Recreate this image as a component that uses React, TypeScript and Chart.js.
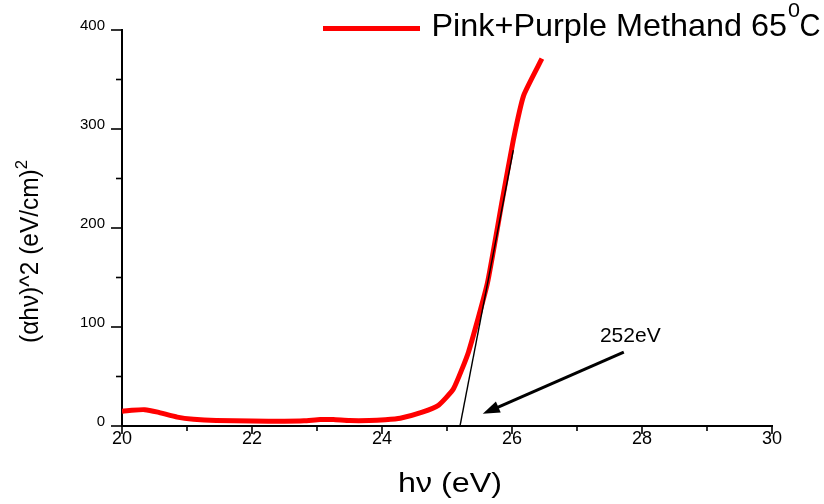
import React, { useEffect, useRef } from 'react';
import { Chart, registerables } from 'chart.js';

Chart.register(...registerables);

// ---- data ----
const photonEnergy = [20.0, 20.15, 20.35, 20.55, 20.85, 21.1, 21.45, 22.0, 22.5, 22.8, 23.05, 23.25, 23.5, 23.8, 24.05, 24.28, 24.62, 24.87, 25.1, 25.33, 25.62, 25.85, 26.02, 26.18, 26.46];
const absorption = [15, 16, 16.5, 14, 9, 6.8, 5.5, 5, 4.8, 5.2, 6.5, 6.5, 5.5, 5.5, 6.3, 7.8, 14, 21, 37.6, 74.6, 143.8, 228, 288.7, 334, 371];

const tangentX = [25.2, 26.02];
const tangentY = [0, 278.6];

const arrowX = [27.72, 25.55]; // tail, tip
const arrowY = [74.6, 12.3];

const annotationX = 27.82;
const annotationY = 90.5;
const annotationText = '252eV';

const xMajorTicks = [20, 22, 24, 26, 28, 30];
const xMinorTicks = [21, 23, 25, 27, 29];
const yMajorTicks = [0, 100, 200, 300, 400];
const yMinorTicks = [50, 150, 250, 350];

const legendLabel = 'Pink+Purple Methand 65';
const legendSup = '0';
const legendTail = 'C';
const xTitle = 'hν (eV)';
const yTitleMain = '(αhν)^2 (eV/cm)';
const yTitleSup = '2';

const FONT = "'Liberation Sans', Arial, sans-serif";

function fitText(ctx: CanvasRenderingContext2D, text: string, x: number, baseline: number, width: number, font: string) {
  ctx.save();
  ctx.font = font;
  const w = ctx.measureText(text).width;
  const s = width / w;
  ctx.translate(x, baseline);
  ctx.scale(s, 1);
  ctx.textAlign = 'left';
  ctx.textBaseline = 'alphabetic';
  ctx.fillText(text, 0, 0);
  ctx.restore();
}

const overlayPlugin = {
  id: 'overlay',
  afterDraw(chart: any) {
    const ctx: CanvasRenderingContext2D = chart.ctx;
    const xs = chart.scales.x;
    const ys = chart.scales.y;
    const area = chart.chartArea;
    ctx.save();
    ctx.strokeStyle = '#000';
    ctx.fillStyle = '#000';
    ctx.lineWidth = 1.6;
    ctx.lineCap = 'butt';

    // x tick marks (outward)
    const xb = area.bottom;
    xMajorTicks.forEach((v) => {
      const p = xs.getPixelForValue(v);
      ctx.beginPath(); ctx.moveTo(p, xb); ctx.lineTo(p, xb + 8); ctx.stroke();
    });
    xMinorTicks.forEach((v) => {
      const p = xs.getPixelForValue(v);
      ctx.beginPath(); ctx.moveTo(p, xb); ctx.lineTo(p, xb + 5); ctx.stroke();
    });
    // y tick marks (outward)
    const yl = area.left;
    yMajorTicks.forEach((v) => {
      const p = ys.getPixelForValue(v);
      ctx.beginPath(); ctx.moveTo(yl, p); ctx.lineTo(yl - 11, p); ctx.stroke();
    });
    yMinorTicks.forEach((v) => {
      const p = ys.getPixelForValue(v);
      ctx.beginPath(); ctx.moveTo(yl, p); ctx.lineTo(yl - 6, p); ctx.stroke();
    });

    // arrow
    const tx = xs.getPixelForValue(arrowX[0]);
    const ty = ys.getPixelForValue(arrowY[0]);
    const hx = xs.getPixelForValue(arrowX[1]);
    const hy = ys.getPixelForValue(arrowY[1]);
    const ang = Math.atan2(hy - ty, hx - tx);
    const headLen = 17;
    const headHalf = 6;
    const bx = hx - headLen * Math.cos(ang);
    const by = hy - headLen * Math.sin(ang);
    ctx.lineWidth = 3;
    ctx.beginPath(); ctx.moveTo(tx, ty); ctx.lineTo(bx + 2 * Math.cos(ang), by + 2 * Math.sin(ang)); ctx.stroke();
    ctx.beginPath();
    ctx.moveTo(hx, hy);
    ctx.lineTo(bx + headHalf * Math.sin(ang), by - headHalf * Math.cos(ang));
    ctx.lineTo(bx - headHalf * Math.sin(ang), by + headHalf * Math.cos(ang));
    ctx.closePath();
    ctx.fill();

    // annotation text
    ctx.font = `21px ${FONT}`;
    ctx.textAlign = 'center';
    ctx.textBaseline = 'middle';
    ctx.fillText(annotationText, xs.getPixelForValue(annotationX), ys.getPixelForValue(annotationY));

    // legend
    ctx.strokeStyle = '#ff0000';
    ctx.lineWidth = 5;
    ctx.beginPath(); ctx.moveTo(323, 28.5); ctx.lineTo(420, 28.5); ctx.stroke();
    ctx.fillStyle = '#000';
    fitText(ctx, legendLabel, 431.5, 36, 355.5, `32px ${FONT}`);
    fitText(ctx, legendSup, 788, 16.5, 12, `20px ${FONT}`);
    fitText(ctx, legendTail, 799.5, 36, 21, `32px ${FONT}`);

    // x title
    fitText(ctx, xTitle, 398, 492, 104, `27px ${FONT}`);

    // y title (rotated)
    ctx.save();
    ctx.translate(37.5, 343);
    ctx.rotate(-Math.PI / 2);
    ctx.font = `25px ${FONT}`;
    const wMain = ctx.measureText(yTitleMain).width;
    ctx.font = `17px ${FONT}`;
    const wSup = ctx.measureText(yTitleSup).width;
    const s = 183 / (wMain + wSup);
    ctx.scale(s, 1);
    ctx.textAlign = 'left';
    ctx.textBaseline = 'alphabetic';
    ctx.font = `25px ${FONT}`;
    ctx.fillText(yTitleMain, 0, 0);
    ctx.font = `17px ${FONT}`;
    ctx.fillText(yTitleSup, wMain, -10.5);
    ctx.restore();

    ctx.restore();
  },
};

export default function App() {
  const canvasRef = useRef<HTMLCanvasElement | null>(null);

  useEffect(() => {
    document.body.style.margin = '0';
    const canvas = canvasRef.current;
    if (!canvas) return;
    const mainData = photonEnergy.map((x, i) => ({ x, y: absorption[i] }));
    const tangentData = tangentX.map((x, i) => ({ x, y: tangentY[i] }));

    const chart = new Chart(canvas, {
      type: 'scatter',
      data: {
        datasets: [
          {
            label: legendLabel,
            data: mainData,
            order: 2,
            showLine: true,
            borderColor: '#ff0000',
            backgroundColor: '#ff0000',
            borderWidth: 5,
            pointRadius: 0,
            tension: 0.15,
            borderJoinStyle: 'round',
            borderCapStyle: 'butt',
          },
          {
            label: 'tangent',
            data: tangentData,
            order: 1,
            showLine: true,
            borderColor: '#000',
            borderWidth: 1.4,
            pointRadius: 0,
          },
        ],
      },
      options: {
        responsive: false,
        devicePixelRatio: 1,
        animation: false,
        events: [],
        layout: { padding: { left: 0, right: 52, top: 30, bottom: 0 } },
        plugins: {
          legend: { display: false },
          tooltip: { enabled: false },
          title: { display: false },
        },
        scales: {
          x: {
            type: 'linear',
            min: 20,
            max: 30,
            afterFit: (s: any) => { s.height = 78; },
            afterBuildTicks: (s: any) => {
              s.ticks = [...xMajorTicks, ...xMinorTicks].sort((a, b) => a - b).map((v) => ({ value: v }));
            },
            grid: { display: false, drawTicks: false },
            border: { display: true, color: '#000', width: 2 },
            ticks: {
              autoSkip: false,
              maxRotation: 0,
              padding: 2,
              color: '#000',
              font: { family: FONT, size: 18 },
              callback: (v: any) => (xMajorTicks.includes(Number(v)) ? String(v) : ''),
            },
          },
          y: {
            type: 'linear',
            min: 0,
            max: 400,
            afterFit: (s: any) => { s.width = 122; },
            afterBuildTicks: (s: any) => {
              s.ticks = [...yMajorTicks, ...yMinorTicks].sort((a, b) => a - b).map((v) => ({ value: v }));
            },
            grid: { display: false, drawTicks: false },
            border: { display: true, color: '#000', width: 2 },
            ticks: {
              autoSkip: false,
              padding: 17,
              labelOffset: -4,
              color: '#000',
              font: { family: FONT, size: 15 },
              callback: (v: any) => (yMajorTicks.includes(Number(v)) ? String(v) : ''),
            },
          },
        },
      },
      plugins: [overlayPlugin],
    } as any);

    return () => chart.destroy();
  }, []);

  return <canvas ref={canvasRef} width={824} height={504} style={{ display: 'block' }} />;
}
